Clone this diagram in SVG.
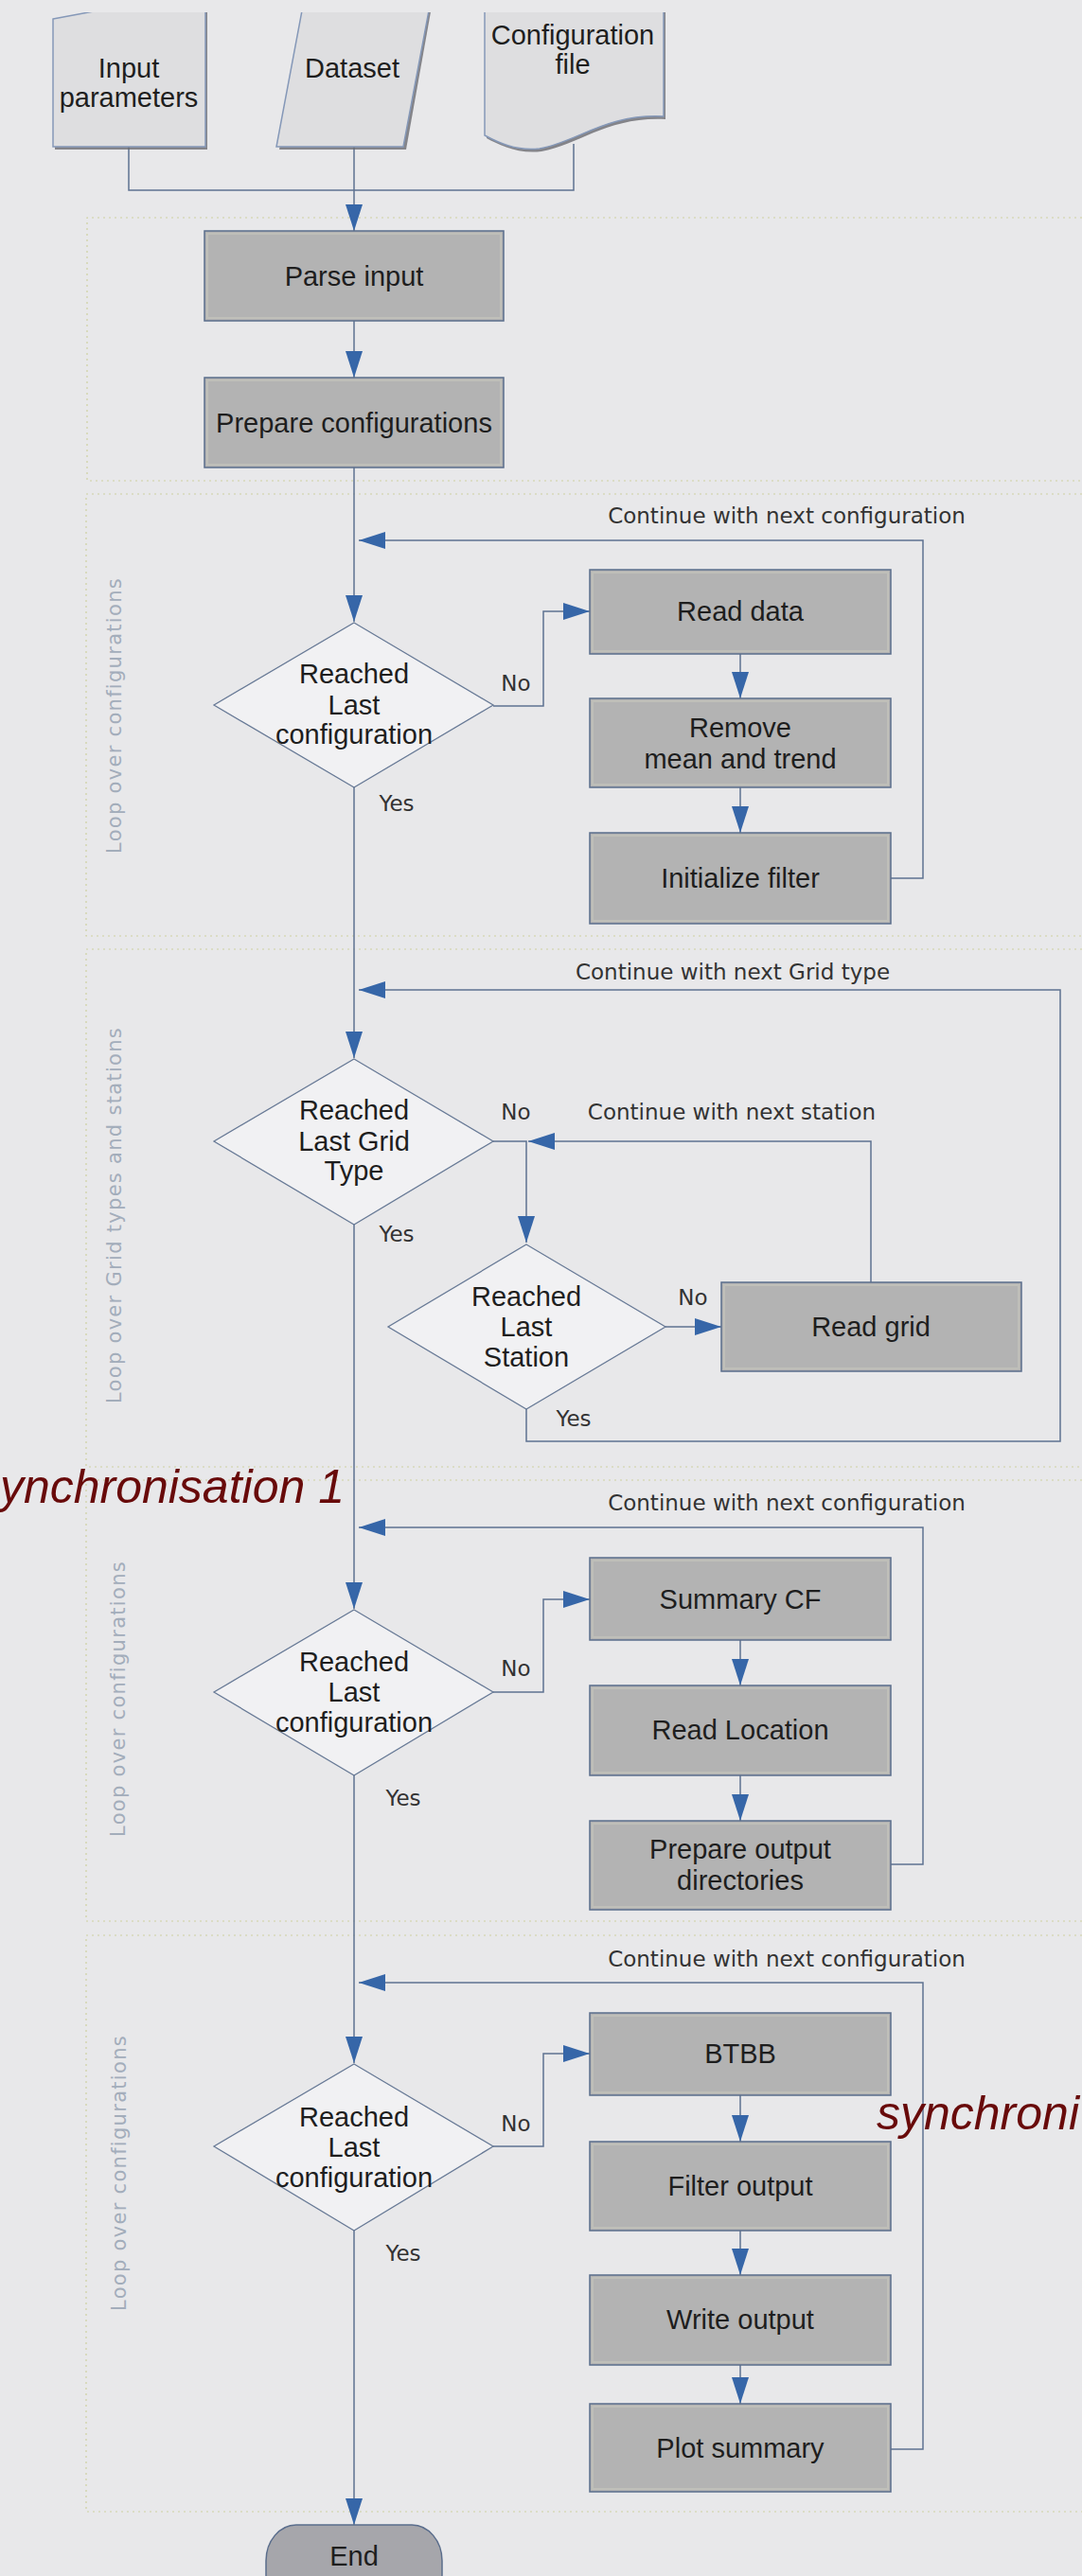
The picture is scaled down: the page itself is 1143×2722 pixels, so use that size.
<svg xmlns="http://www.w3.org/2000/svg" width="1143" height="2722" viewBox="0 0 1143 2722">
<defs>
<style>
.box{fill:#b3b3b3;stroke:#5a6d8c;stroke-width:1.5}
.inner{fill:none;stroke:#c4c4bc;stroke-width:2;opacity:0.7}
.dec{fill:#f1f1f3;stroke:#687a96;stroke-width:1.3}
.io{fill:#dedee0;stroke:#8598b8;stroke-width:1.5}
.shadow{fill:#6a6a70;opacity:0.8}
.term{fill:#a6a6ab;stroke:#5a6d8c;stroke-width:1.5}
.t{font-family:"Liberation Sans",Arial,sans-serif;font-size:29px;fill:#1e1e1e;text-anchor:middle}
.lbl{font-family:"DejaVu Sans",sans-serif;font-size:23px;fill:#333333;text-anchor:middle}
.loop{font-family:"DejaVu Sans",sans-serif;font-size:21px;fill:#a3adbb;letter-spacing:1.3px;text-anchor:middle}
.sync{font-family:"Liberation Sans",Arial,sans-serif;font-style:italic;font-size:50px;fill:#680a0a}
.c{fill:none;stroke:#5e7291;stroke-width:1.5}
.dot{fill:none;stroke:#cdd0a0;stroke-width:1.2;stroke-dasharray:2 4}
</style>
<marker id="ah" markerUnits="userSpaceOnUse" markerWidth="28" markerHeight="18" refX="28" refY="9" orient="auto">
<path d="M0,0 L28,9 L0,18 Z" fill="#3666a8"/>
</marker>
</defs>
<rect x="0" y="0" width="1143" height="2722" fill="#e8e8ea"/>

<g id="groups">
<path class="dot" d="M1143,230 H92 V508 H1143"/>
<path class="dot" d="M1143,522 H91 V989 H1143"/>
<path class="dot" d="M1143,1003 H91 V1550 H1143"/>
<path class="dot" d="M1143,1564 H91 V2030 H1143"/>
<path class="dot" d="M1143,2045 H91 V2654 H1143"/>
<text class="loop" transform="translate(128,756) rotate(-90)">Loop over configurations</text>
<text class="loop" transform="translate(128,1284) rotate(-90)">Loop over Grid types and stations</text>
<text class="loop" transform="translate(132,1795) rotate(-90)">Loop over configurations</text>
<text class="loop" transform="translate(133,2296) rotate(-90)">Loop over configurations</text>
</g>

<g id="connectors">
<path class="c" d="M136,143 V201 H606 V152"/>
<path class="c" d="M374,155 V244" marker-end="url(#ah)"/>
<path class="c" d="M374,339 V399" marker-end="url(#ah)"/>
<path class="c" d="M374,494 V657" marker-end="url(#ah)"/>
<path class="c" d="M940,928 H975 V571 H379" marker-end="url(#ah)"/>
<path class="c" d="M521,746 H574 V646 H623" marker-end="url(#ah)"/>
<path class="c" d="M782,691 V738" marker-end="url(#ah)"/>
<path class="c" d="M782,832 V880" marker-end="url(#ah)"/>
<path class="c" d="M374,832 V1118" marker-end="url(#ah)"/>
<path class="c" d="M556,1489 V1523 H1120 V1046 H379" marker-end="url(#ah)"/>
<path class="c" d="M521,1206 H556 V1313" marker-end="url(#ah)"/>
<path class="c" d="M920,1355 V1206 H558" marker-end="url(#ah)"/>
<path class="c" d="M703,1402 H762" marker-end="url(#ah)"/>
<path class="c" d="M374,1294 V1700" marker-end="url(#ah)"/>
<path class="c" d="M940,1970 H975 V1614 H379" marker-end="url(#ah)"/>
<path class="c" d="M521,1788 H574 V1690 H623" marker-end="url(#ah)"/>
<path class="c" d="M782,1733 V1781" marker-end="url(#ah)"/>
<path class="c" d="M782,1876 V1924" marker-end="url(#ah)"/>
<path class="c" d="M374,1876 V2180" marker-end="url(#ah)"/>
<path class="c" d="M940,2588 H975 V2095 H379" marker-end="url(#ah)"/>
<path class="c" d="M521,2268 H574 V2170 H623" marker-end="url(#ah)"/>
<path class="c" d="M782,2214 V2263" marker-end="url(#ah)"/>
<path class="c" d="M782,2357 V2404" marker-end="url(#ah)"/>
<path class="c" d="M782,2499 V2540" marker-end="url(#ah)"/>
<path class="c" d="M374,2357 V2668" marker-end="url(#ah)"/>
<text class="lbl" x="831" y="553">Continue with next configuration</text>
<text class="lbl" x="545" y="730">No</text>
<text class="lbl" x="419" y="857">Yes</text>
<text class="lbl" x="774" y="1035">Continue with next Grid type</text>
<text class="lbl" x="545" y="1183">No</text>
<text class="lbl" x="773" y="1183">Continue with next station</text>
<text class="lbl" x="419" y="1312">Yes</text>
<text class="lbl" x="732" y="1379">No</text>
<text class="lbl" x="606" y="1507">Yes</text>
<text class="lbl" x="831" y="1596">Continue with next configuration</text>
<text class="lbl" x="545" y="1771">No</text>
<text class="lbl" x="426" y="1908">Yes</text>
<text class="lbl" x="831" y="2078">Continue with next configuration</text>
<text class="lbl" x="545" y="2252">No</text>
<text class="lbl" x="426" y="2389">Yes</text>
</g>

<g id="input-parameters">
<polygon class="shadow" points="58,23 219,-7 219,158 58,158"/>
<polygon class="io" points="56,20 217,-10 217,155 56,155"/>
<text class="t" x="136" y="82">Input</text>
<text class="t" x="136" y="113">parameters</text>
</g>
<g id="dataset">
<polygon class="shadow" points="324,-10 459,-10 429,158 295,158"/>
<polygon class="io" points="323,-10 457,-10 426,155 292,155"/>
<text class="t" x="372" y="82">Dataset</text>
</g>
<g id="configuration-file">
<path class="shadow" d="M514,-10 H703 V126 C642,123 612,153 572,160 C547,163 527,153 514,146 Z"/>
<path class="io" d="M512,-10 H701 V123 C640,120 610,150 570,157 C545,160 525,150 512,143 Z"/>
<text class="t" x="605" y="47">Configuration</text>
<text class="t" x="605" y="78">file</text>
</g>
<rect x="0" y="0" width="760" height="13" fill="#e8e8ea"/>

<g id="parse-input">
<rect class="box" x="216" y="244" width="316" height="95"/>
<rect class="inner" x="219" y="247" width="310" height="89"/>
<text class="t" x="374" y="302">Parse input</text>
</g>
<g id="prepare-configurations">
<rect class="box" x="216" y="399" width="316" height="95"/>
<rect class="inner" x="219" y="402" width="310" height="89"/>
<text class="t" x="374" y="457">Prepare configurations</text>
</g>

<g id="decision-config-1">
<polygon class="dec" points="374,658 521,745 374,832 226,745"/>
<text class="t" x="374" y="722">Reached</text>
<text class="t" x="374" y="755">Last</text>
<text class="t" x="374" y="786">configuration</text>
</g>
<g id="read-data">
<rect class="box" x="623" y="602" width="318" height="89"/>
<rect class="inner" x="626" y="605" width="312" height="83"/>
<text class="t" x="782" y="656">Read data</text>
</g>
<g id="remove-mean">
<rect class="box" x="623" y="738" width="318" height="94"/>
<rect class="inner" x="626" y="741" width="312" height="88"/>
<text class="t" x="782" y="779">Remove</text>
<text class="t" x="782" y="812">mean and trend</text>
</g>
<g id="initialize-filter">
<rect class="box" x="623" y="880" width="318" height="96"/>
<rect class="inner" x="626" y="883" width="312" height="90"/>
<text class="t" x="782" y="938">Initialize filter</text>
</g>

<g id="decision-grid">
<polygon class="dec" points="374,1119 521,1206 374,1294 226,1206"/>
<text class="t" x="374" y="1183">Reached</text>
<text class="t" x="374" y="1216">Last Grid</text>
<text class="t" x="374" y="1247">Type</text>
</g>
<g id="decision-station">
<polygon class="dec" points="556,1315 703,1402 556,1489 410,1402"/>
<text class="t" x="556" y="1380">Reached</text>
<text class="t" x="556" y="1412">Last</text>
<text class="t" x="556" y="1444">Station</text>
</g>
<g id="read-grid">
<rect class="box" x="762" y="1355" width="317" height="94"/>
<rect class="inner" x="765" y="1358" width="311" height="88"/>
<text class="t" x="920" y="1412">Read grid</text>
</g>

<g id="sync-1">
<text class="sync" x="364" y="1588" text-anchor="end">ynchronisation 1</text>
</g>

<g id="decision-config-2">
<polygon class="dec" points="374,1701 521,1788 374,1876 226,1788"/>
<text class="t" x="374" y="1766">Reached</text>
<text class="t" x="374" y="1798">Last</text>
<text class="t" x="374" y="1830">configuration</text>
</g>
<g id="summary-cf">
<rect class="box" x="623" y="1646" width="318" height="87"/>
<rect class="inner" x="626" y="1649" width="312" height="81"/>
<text class="t" x="782" y="1700">Summary CF</text>
</g>
<g id="read-location">
<rect class="box" x="623" y="1781" width="318" height="95"/>
<rect class="inner" x="626" y="1784" width="312" height="89"/>
<text class="t" x="782" y="1838">Read Location</text>
</g>
<g id="prepare-output">
<rect class="box" x="623" y="1924" width="318" height="94"/>
<rect class="inner" x="626" y="1927" width="312" height="88"/>
<text class="t" x="782" y="1964">Prepare output</text>
<text class="t" x="782" y="1997">directories</text>
</g>

<g id="decision-config-3">
<polygon class="dec" points="374,2181 521,2268 374,2357 226,2268"/>
<text class="t" x="374" y="2247">Reached</text>
<text class="t" x="374" y="2279">Last</text>
<text class="t" x="374" y="2311">configuration</text>
</g>
<g id="btbb">
<rect class="box" x="623" y="2127" width="318" height="87"/>
<rect class="inner" x="626" y="2130" width="312" height="81"/>
<text class="t" x="782" y="2180">BTBB</text>
</g>
<g id="filter-output">
<rect class="box" x="623" y="2263" width="318" height="94"/>
<rect class="inner" x="626" y="2266" width="312" height="88"/>
<text class="t" x="782" y="2320">Filter output</text>
</g>
<g id="write-output">
<rect class="box" x="623" y="2404" width="318" height="95"/>
<rect class="inner" x="626" y="2407" width="312" height="89"/>
<text class="t" x="782" y="2461">Write output</text>
</g>
<g id="plot-summary">
<rect class="box" x="623" y="2540" width="318" height="93"/>
<rect class="inner" x="626" y="2543" width="312" height="87"/>
<text class="t" x="782" y="2597">Plot summary</text>
</g>

<g id="sync-2">
<text class="sync" x="926" y="2250">synchroni</text>
</g>

<g id="end">
<rect class="term" x="281" y="2668" width="186" height="90" rx="32" ry="38"/>
<text class="t" x="374" y="2711">End</text>
</g>
</svg>
